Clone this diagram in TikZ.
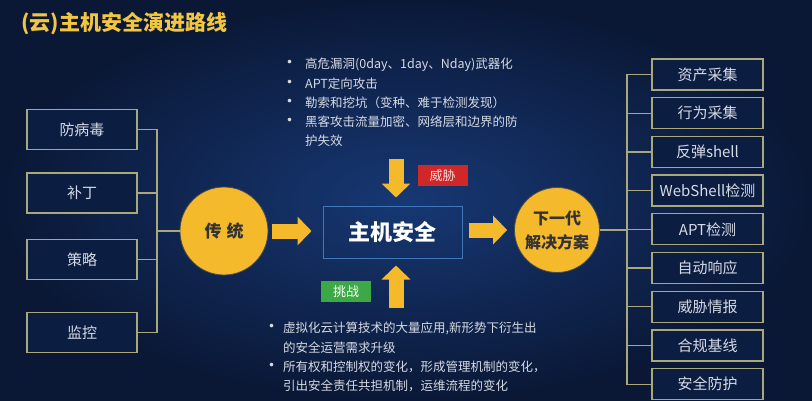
\documentclass[tikz,border=0pt]{standalone}
\usepackage{fontspec}
\setmainfont{Noto Sans CJK SC}
\usetikzlibrary{arrows.meta}
\definecolor{bgdark}{HTML}{0A1836}
\definecolor{bglight}{HTML}{173874}
\definecolor{gold}{HTML}{F5B92C}
\definecolor{olive}{HTML}{A9A77C}
\definecolor{boxfill}{HTML}{0C1D42}
\definecolor{txt}{HTML}{D6DAE4}
\definecolor{hostline}{HTML}{3E78B8}
\definecolor{threat}{HTML}{D02828}
\definecolor{chal}{HTML}{3DA846}
\definecolor{titlecol}{HTML}{F3C640}
\newcommand{\dotmark}{{\fontsize{17}{17}\selectfont •}}
\tikzset{
	lbox/.style={draw=olive,line width=1.3pt,fill=boxfill,minimum width=110pt,minimum height=40pt,text=txt,font=\fontsize{15}{15}\selectfont},
	rbox/.style={lbox,minimum width=111pt,minimum height=31pt},
	hub/.style={circle,draw=black!70,fill=gold,line width=0.8pt,text=black!80,font=\bfseries\fontsize{16}{24}\selectfont,align=center},
	link/.style={draw=olive,line width=1.2pt},
	bigarrow/.style={draw=gold,line width=15pt,-{Triangle[width=28pt,length=14pt]}},
	tag/.style={minimum width=50pt,minimum height=21pt,inner sep=0pt,font=\fontsize{13}{13}\selectfont},
	notes/.style={anchor=north west,inner sep=0pt,text=txt,font=\fontsize{12.5}{19.3}\selectfont}
}
\begin{document}
\begin{tikzpicture}[x=1pt,y=-1pt]
	\useasboundingbox (0,0) rectangle (812,400);
	\shade[inner color=bglight,outer color=bgdark] (0,0) rectangle (812,400);
	\node[anchor=west,text=titlecol,font=\bfseries\fontsize{21}{21}\selectfont] (title) at (18,24) {(云)主机安全演进路线};
	% centre
	\node[draw=hostline,line width=1pt,minimum width=139pt,minimum height=52pt,text=white,font=\bfseries\fontsize{22}{22}\selectfont] (host) at (392.5,232) {主机安全};
	\node[hub,minimum size=88pt,font=\bfseries\fontsize{17}{17}\selectfont] (trad) at (224,231) {传\hspace{5pt}统};
	\node[hub,minimum size=85pt] (next) at (557,230) {下一代\\解决方案};
	\draw[bigarrow,shorten <=4pt,shorten >=11pt] (trad.east) -- (trad.east -| host.west);
	\draw[bigarrow,shorten <=6pt,shorten >=7pt] (next.west -| host.east) -- (next.west);
	\coordinate (threatsrc) at (396,159);
	\coordinate (chalsrc) at (396,308);
	\draw[bigarrow,shorten >=8pt] (threatsrc) -- (threatsrc |- host.north);
	\draw[bigarrow,shorten >=7pt] (chalsrc) -- (chalsrc |- host.south);
	\node[tag,fill=threat,text=red!15] (threattag) at (442.5,175.5) {威胁};
	\node[tag,fill=chal,text=white] (chaltag) at (346,291.5) {挑战};
	% left side
	\coordinate (lbus) at (157,231);
	\foreach \t/\y [count=\i] in {防病毒/129.5,补丁/193,策略/259.5,监控/332.5} {
		\node[lbox] (l\i) at (82,\y) {\t};
		\draw[link] (l\i.east) -| (lbus) -- (trad.west);
	}
	% right side
	\coordinate (rbus) at (627,230);
	\foreach \t [count=\i] in {资产采集,行为采集,反弹shell,WebShell检测,APT检测,自动响应,威胁情报,合规基线,安全防护} {
		\node[rbox] (r\i) at (707.5,{74.5+38.7*(\i-1)}) {\t};
		\draw[link] (next.east) -- (rbus) |- (r\i.west);
	}
	% bullet texts
	\node[notes] (threats) at (281,55) {\begin{tabular}{@{}p{24pt}@{}l@{}}
		\dotmark & 高危漏洞(0day、1day、Nday)武器化\\
		\dotmark & APT定向攻击\\
		\dotmark & 勒索和挖坑（变种、难于检测发现）\\
		\dotmark & 黑客攻击流量加密、网络层和边界的防\\
		& 护失效
	\end{tabular}};
	\node[notes] (challenges) at (263,319) {\begin{tabular}{@{}p{20pt}@{}l@{}}
		\dotmark & 虚拟化云计算技术的大量应用,新形势下衍生出\\
		& 的安全运营需求升级\\
		\dotmark & 所有权和控制权的变化，形成管理机制的变化，\\
		& 引出安全责任共担机制，运维流程的变化
	\end{tabular}};
\end{tikzpicture}
\end{document}
